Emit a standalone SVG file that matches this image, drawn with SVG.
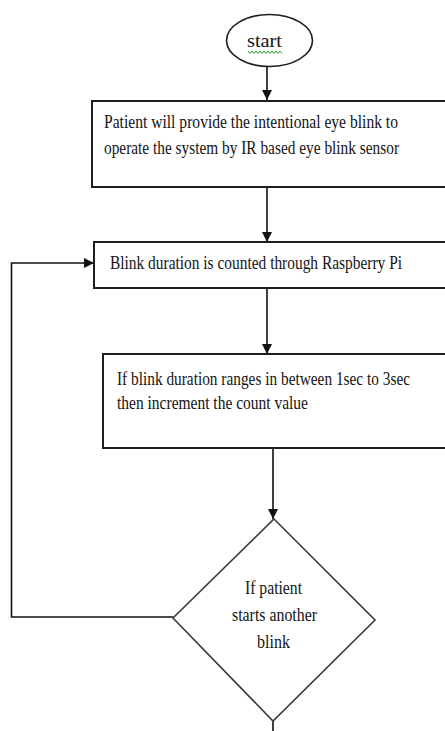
<svg xmlns="http://www.w3.org/2000/svg" width="445" height="731" viewBox="0 0 445 731">
<defs>
<marker id="arr" viewBox="0 0 10 10" refX="10" refY="5" markerWidth="10" markerHeight="15" markerUnits="userSpaceOnUse" orient="auto">
<path d="M0,0 L10,5 L0,10 z" fill="#111"/>
</marker>
<style>
.box{fill:#fff;stroke:#1e1e1e;stroke-width:2}
.dia{fill:#fff;stroke:#3c3c3c;stroke-width:1.6}
.con{fill:none;stroke:#111;stroke-width:1.6}
.t{font-family:"Liberation Serif","Times New Roman",serif;font-size:18px;fill:#141414}
.c{text-anchor:middle}
</style>
</defs>
<rect width="445" height="731" fill="#fff"/>
<g id="connectors">
<line class="con" x1="267" y1="67" x2="267" y2="100" marker-end="url(#arr)"/>
<line class="con" x1="267" y1="187" x2="267" y2="242" marker-end="url(#arr)"/>
<line class="con" x1="267" y1="288" x2="267" y2="354" marker-end="url(#arr)"/>
<line class="con" x1="273" y1="448" x2="273" y2="519" marker-end="url(#arr)"/>
<line class="con" x1="273" y1="721" x2="273" y2="731"/>
<polyline class="con" points="173,617 11.5,617 11.5,263 94,263" marker-end="url(#arr)"/>
</g>
<g id="start">
<ellipse cx="269.5" cy="40.5" rx="43" ry="26" fill="#fff" stroke="#1e1e1e" stroke-width="1.6"/>
<text class="t" x="247" y="47" textLength="35" lengthAdjust="spacingAndGlyphs">start</text>
<polyline points="248,51 250,53.5 252,51 254,53.5 256,51 258,53.5 260,51 262,53.5 264,51 266,53.5 268,51 270,53.5 272,51 274,53.5 276,51 278,53.5 280,51 282,53.5" fill="none" stroke="#2fa52f" stroke-width="1"/>
</g>
<g id="sensor">
<rect class="box" x="92" y="101" width="360" height="86"/>
<text class="t" x="104" y="128" textLength="294" lengthAdjust="spacingAndGlyphs">Patient will provide the intentional eye blink to</text>
<text class="t" x="104" y="154" textLength="295" lengthAdjust="spacingAndGlyphs">operate the system by IR based eye blink sensor</text>
</g>
<g id="count">
<rect class="box" x="94" y="242" width="360" height="46"/>
<text class="t" x="110" y="269" textLength="292" lengthAdjust="spacingAndGlyphs">Blink duration is counted through Raspberry Pi</text>
</g>
<g id="range">
<rect class="box" x="103" y="354" width="360" height="94"/>
<text class="t" x="117" y="385" textLength="293" lengthAdjust="spacingAndGlyphs">If blink duration ranges in between 1sec to 3sec</text>
<text class="t" x="117" y="409" textLength="191" lengthAdjust="spacingAndGlyphs">then increment the count value</text>
</g>
<g id="decision">
<polygon class="dia" points="274,519 375,620 273,721 173,618"/>
<text class="t c" x="273.5" y="594" textLength="57" lengthAdjust="spacingAndGlyphs">If patient</text>
<text class="t c" x="274.5" y="621" textLength="85" lengthAdjust="spacingAndGlyphs">starts another</text>
<text class="t c" x="273.5" y="648" textLength="33" lengthAdjust="spacingAndGlyphs">blink</text>
</g>
</svg>
